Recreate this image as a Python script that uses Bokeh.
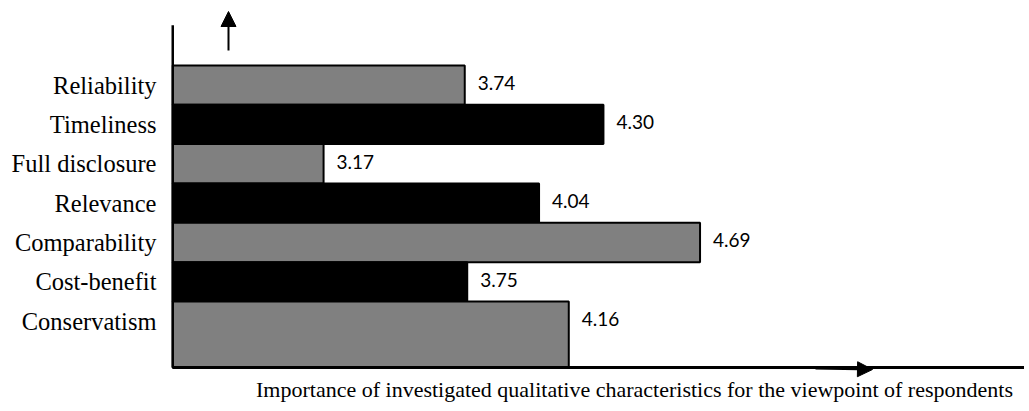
from bokeh.plotting import figure
from bokeh.models import FixedTicker, Label, Arrow, NormalHead, ColumnDataSource, Range1d
from bokeh.core.properties import value
from bokeh.embed import file_html
from bokeh.resources import INLINE

# ---- data ----
categories = ["Reliability", "Timeliness", "Full disclosure", "Relevance",
              "Comparability", "Cost-benefit", "Conservatism"]
scores = [3.74, 4.30, 3.17, 4.04, 4.69, 3.75, 4.16]
score_labels = ["3.74", "4.30", "3.17", "4.04", "4.69", "3.75", "4.16"]
bar_colors = ["#808080", "#000000", "#808080", "#000000", "#808080", "#000000", "#808080"]
x_title = "Importance of investigated qualitative characteristics for the viewpoint of respondents"

# ---- scale / layout choices ----
BASE = 2.56                 # value at which the bars start (the vertical axis)
X_START, X_END = 2.556, 6.0
AXIS_Y = -0.18              # position of the horizontal axis
AXIS_TOP = 8.52             # top end of the vertical axis
Y_START, Y_END = -1.22, 9.15

n = len(categories)
ypos = [n - i for i in range(n)]
tops = [y + 0.5 for y in ypos]
bottoms = [y - 0.5 for y in ypos]
bottoms[-1] = AXIS_Y  # last bar reaches down to the axis, as in the reference

src = ColumnDataSource(dict(cat=categories, score=scores, lab=score_labels,
                            color=bar_colors, y=ypos, top=tops, bottom=bottoms,
                            left=[BASE] * n))

W, H, LEFT = 1024, 408, 171
p = figure(width=W, height=H, output_backend="svg", toolbar_location=None,
           x_range=Range1d(X_START, X_END), y_range=Range1d(Y_START, Y_END),
           min_border_left=LEFT, min_border_right=0, min_border_top=0, min_border_bottom=0)

p.quad(left="left", right="score", top="top", bottom="bottom", source=src,
       fill_color="color", line_color="black", line_width=2)

p.text(x="score", y="y", text="lab", source=src, x_offset=13, y_offset=-2,
       text_font=value("Lato"), text_font_size="19px", text_color="black",
       text_align="left", text_baseline="middle")

# axis lines
p.segment(x0=[BASE], y0=[AXIS_Y], x1=[BASE], y1=[AXIS_TOP], line_color="black", line_width=3)
p.segment(x0=[BASE], y0=[AXIS_Y], x1=[X_END], y1=[AXIS_Y], line_color="black", line_width=3)

p.outline_line_color = None
p.xgrid.visible = False
p.ygrid.visible = False
p.xaxis.visible = False

ya = p.yaxis[0]
ya.ticker = FixedTicker(ticks=ypos)
ya.major_label_overrides = {y: c for y, c in zip(ypos, categories)}
ya.axis_line_color = None
ya.major_tick_line_color = None
ya.minor_tick_line_color = None
ya.major_label_text_font = "Liberation Serif"
ya.major_label_text_font_size = "24.5px"
ya.major_label_text_color = "black"
ya.major_label_standoff = 9

# axis title (screen units are measured from the frame's bottom-left corner)
p.add_layout(Label(x=463, y=H - 389, x_units="screen", y_units="screen", text=x_title,
                   text_font="Liberation Serif", text_font_size="22px",
                   text_align="center", text_baseline="middle", text_color="black"))

p.add_layout(Arrow(x_start=57, y_start=H - 50, x_end=57, y_end=H - 11,
                   start_units="screen", end_units="screen", line_width=2,
                   end=NormalHead(size=15, fill_color="black", line_color="black")))
p.add_layout(Arrow(x_start=644, y_start=H - 368, x_end=701, y_end=H - 369,
                   start_units="screen", end_units="screen", line_width=2,
                   end=NormalHead(size=15, fill_color="black", line_color="black")))

open("out.html", "w").write(file_html(p, INLINE))
